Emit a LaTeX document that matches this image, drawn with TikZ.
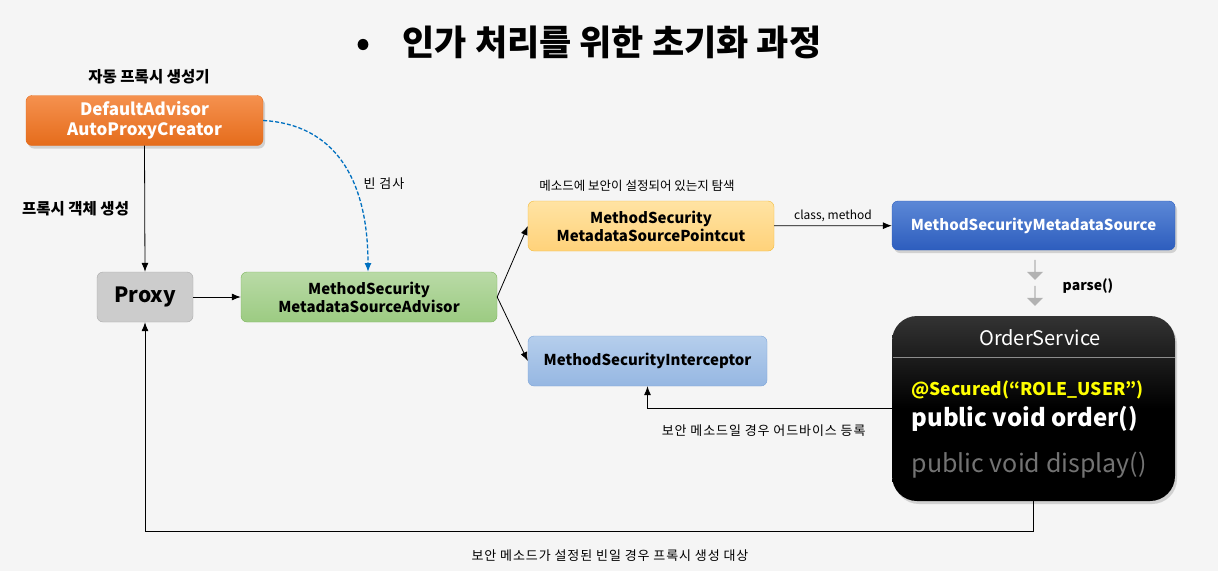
\documentclass[tikz,border=0pt]{standalone}
\usepackage{fontspec}
\setmainfont{Noto Sans CJK KR}
\usetikzlibrary{positioning,shadows,shapes.arrows,arrows.meta}

\definecolor{bgcol}{HTML}{F5F5F5}
\definecolor{orangetop}{HTML}{F5914F}
\definecolor{orangebot}{HTML}{E56C1B}
\definecolor{greentop}{HTML}{B9DAA6}
\definecolor{greenbot}{HTML}{9CCB82}
\definecolor{greenline}{HTML}{7DB45D}
\definecolor{yellowtop}{HTML}{FFE3A3}
\definecolor{yellowbot}{HTML}{FFD27A}
\definecolor{yellowline}{HTML}{F2BB3A}
\definecolor{bluetop}{HTML}{5C88D6}
\definecolor{bluebot}{HTML}{2D5DBE}
\definecolor{lbluetop}{HTML}{B5CEEC}
\definecolor{lbluebot}{HTML}{96B7E2}
\definecolor{lblueline}{HTML}{7CA4D8}
\definecolor{dashblue}{HTML}{0070C0}
\definecolor{secyellow}{HTML}{FFFF00}

\begin{document}
\begin{tikzpicture}[x=1pt,y=-1pt,
    box/.style={rounded corners=6pt,align=center,minimum height=50pt,inner sep=2pt,
      font=\bfseries\fontsize{15}{18}\selectfont},
    shadow/.style={drop shadow={opacity=0.3,shadow xshift=2pt,shadow yshift=-3pt}},
    lbl/.style={font=\fontsize{12}{14}\selectfont},
    widelbl/.style={font=\fontsize{13}{15}\selectfont\addfontfeature{LetterSpace=7}},
    boldlbl/.style={font=\bfseries\fontsize{15.5}{18}\selectfont},
    conn/.style={->,>={Latex[length=9pt,width=7pt]},line width=0.8pt}]

        \useasboundingbox[fill=bgcol] (0,0) rectangle (1218,571);

        \node[font=\bfseries\fontsize{35}{40}\selectfont] (title) at (589,42) {•\hspace{32pt}인가 처리를 위한 초기화 과정};

        \node[boldlbl] (autolbl) at (149,77) {자동 프록시 생성기};
        \node[box,shadow,top color=orangetop,bottom color=orangebot,draw=orangebot,text=white,
          minimum width=237pt,font=\bfseries\fontsize{17}{20}\selectfont] (dapc) at (144.5,120.5) {DefaultAdvisor\\AutoProxyCreator};
        \node[box,fill=black!20,draw=black!33,minimum width=96pt,
          font=\bfseries\fontsize{21}{24}\selectfont] (proxy) at (145,297) {Proxy};
        \node[box,top color=greentop,bottom color=greenbot,draw=greenline,minimum width=256pt] (msma) at (369,297) {MethodSecurity\\MetadataSourceAdvisor};
        \node[box,top color=yellowtop,bottom color=yellowbot,draw=yellowline,minimum width=246pt] (pc) at (651,226) {MethodSecurity\\MetadataSourcePointcut};
        \node[lbl,font=\fontsize{12.5}{14}\selectfont] (pclbl) at (637,186) {메소드에 보안이 설정되어 있는지 탐색};
        \node[box,shadow,top color=bluetop,bottom color=bluebot,draw=bluebot,text=white,
          minimum width=283pt,minimum height=49pt] (mms) at (1033.5,225.5) {MethodSecurityMetadataSource};
        \node[box,top color=lbluetop,bottom color=lbluebot,draw=lblueline,minimum width=239pt] (mi) at (647.5,361) {MethodSecurityInterceptor};

        % OrderService
        \node[shadow,rounded corners=25pt,top color=black!80,bottom color=black,middle color=black,
          minimum width=283pt,minimum height=185pt] (os) at (1033.5,408.5) {};
        \node[text=white,font=\fontsize{20}{24}\selectfont] (osname) at (1040,338) {OrderService};
        \coordinate (sepL) at (892.5,357);
        \coordinate (sepR) at (1174.5,357);
        \draw[black!45,line width=0.8pt] (sepL) -- (sepR);
        \node[anchor=west,text=secyellow,font=\bfseries\fontsize{17.5}{21}\selectfont] (sec) at (908,390) {@Secured(“ROLE\_USER”)};
        \node[anchor=west,text=white,font=\bfseries\fontsize{24}{28}\selectfont] (order) at (908,419) {public void order()};
        \node[anchor=west,text=black!55,font=\fontsize{25}{29}\selectfont] (disp) at (908,465) {public void display()};

        % parse
        \node[single arrow,shape border rotate=270,fill=black!30,minimum height=20pt,minimum width=16pt,
          single arrow head extend=2.5pt,inner sep=0pt] (p1) at (1035,269.5) {};
        \node[single arrow,shape border rotate=270,fill=black!30,minimum height=20pt,minimum width=16pt,
          single arrow head extend=2.5pt,inner sep=0pt] (p2) at (1035,295.5) {};
        \node[font=\bfseries\fontsize{14}{17}\selectfont] (parse) at (1088,286) {parse()};

        \coordinate (scan) at (368,272);
        \draw[conn] (dapc.south) -- node[midway,left=12pt,boldlbl]{프록시 객체 생성} (proxy.north);
        \draw[conn,dashblue,line width=1.3pt,dash pattern=on 4pt off 2pt] (dapc.east) .. controls +(70,4) and +(0,-95) .. (scan);
        \node[widelbl] (scanlbl) at (384,184) {빈 검사};
        \draw[conn] (proxy) -- (msma);
        \draw[conn] (msma.east) -- (pc.west);
        \draw[conn] (msma.east) -- (mi.west);
        \draw[conn] (pc) -- node[midway,above,lbl]{class, method} (mms);
        \draw[conn] (os.west) -| node[pos=0.25,below=13pt,widelbl,xshift=-6pt]{보안 메소드일 경우 어드바이스 등록} (mi.south);
        \draw[conn] (os.south) -- ++(0,30) -| (proxy.south);
        \node[widelbl] (botlbl) at (610,556) {보안 메소드가 설정된 빈일 경우 프록시 생성 대상};
      \end{tikzpicture}
\end{document}
